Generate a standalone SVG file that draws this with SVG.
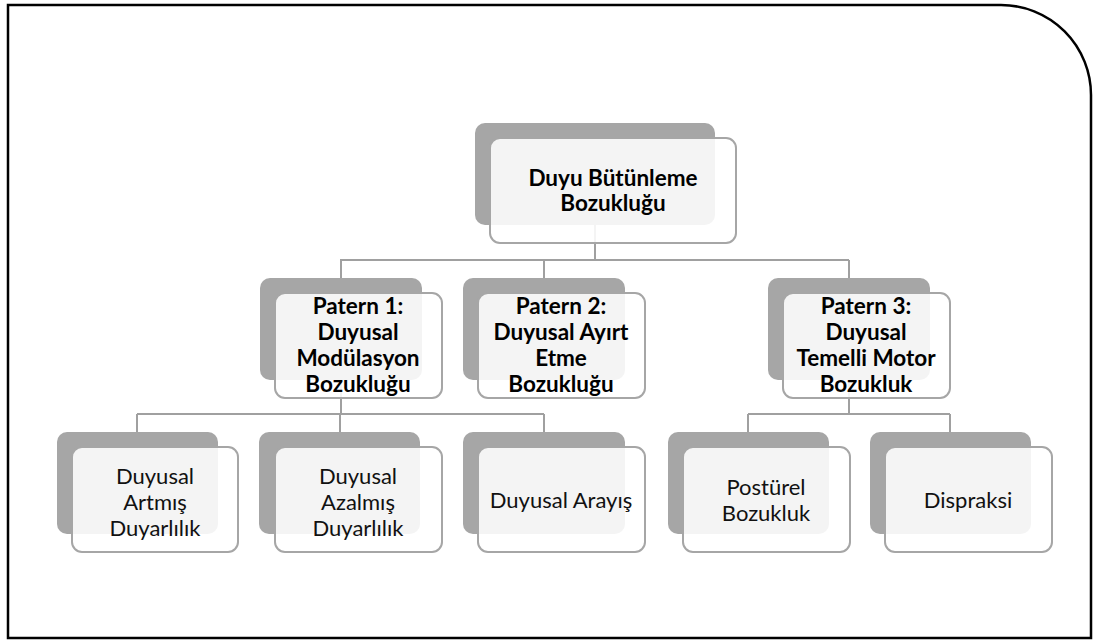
<svg xmlns="http://www.w3.org/2000/svg" width="1093" height="640" viewBox="0 0 1093 640">
<style>
.back{fill:#a6a6a6}
.front{fill:#ffffff;fill-opacity:0.88;stroke:#a6a6a6;stroke-width:2}
.conn{fill:none;stroke:#a0a0a0;stroke-width:2}
.tb{font-family:Lato,"Liberation Sans",sans-serif;font-weight:bold;font-size:22.5px;fill:#000;text-anchor:middle}
.tr{font-family:Lato,"Liberation Sans",sans-serif;font-size:22px;fill:#111;text-anchor:middle}
</style>
<rect width="1093" height="640" fill="#fff"/>
<path d="M8,5 H1001 A90,90 0 0 1 1091,95 V638 H8 Z" fill="none" stroke="#000" stroke-width="2.5"/>
<g id="connectors">
<path class="conn" d="M595,225 V260 M340,260 H849 M341,260 V278 M544,260 V278 M849,260 V278"/>
<path class="conn" d="M341,380 V414 M137,414 H544 M137,414 V432 M340,414 V432 M544,414 V432"/>
<path class="conn" d="M849,380 V414 M748,414 H950 M748,414 V432 M950,414 V432"/>
</g>
<g id="n0">
<rect class="back" x="475" y="123" width="240" height="102" rx="10"/>
<rect class="front" x="490" y="138" width="246" height="105" rx="10"/>
<text class="tb" x="613" y="186">Duyu Bütünleme</text>
<text class="tb" x="613" y="211">Bozukluğu</text>
</g>
<g id="n1">
<rect class="back" x="260" y="278" width="162" height="102" rx="10"/>
<rect class="front" x="275" y="293" width="167" height="105" rx="10"/>
<text class="tb" x="358" y="314">Patern 1:</text>
<text class="tb" x="358" y="340">Duyusal</text>
<text class="tb" x="358" y="366">Modülasyon</text>
<text class="tb" x="358" y="392">Bozukluğu</text>
</g>
<g id="n2">
<rect class="back" x="463" y="278" width="162" height="102" rx="10"/>
<rect class="front" x="478" y="293" width="167" height="105" rx="10"/>
<text class="tb" x="561" y="314">Patern 2:</text>
<text class="tb" x="561" y="340">Duyusal Ayırt</text>
<text class="tb" x="561" y="366">Etme</text>
<text class="tb" x="561" y="392">Bozukluğu</text>
</g>
<g id="n3">
<rect class="back" x="768" y="278" width="162" height="102" rx="10"/>
<rect class="front" x="783" y="293" width="167" height="105" rx="10"/>
<text class="tb" x="866" y="314">Patern 3:</text>
<text class="tb" x="866" y="340">Duyusal</text>
<text class="tb" x="866" y="366">Temelli Motor</text>
<text class="tb" x="866" y="392">Bozukluk</text>
</g>
<g id="n4">
<rect class="back" x="57" y="432" width="161" height="102" rx="10"/>
<rect class="front" x="72" y="447" width="166" height="105" rx="10"/>
<text class="tr" x="155" y="484">Duyusal</text>
<text class="tr" x="155" y="510">Artmış</text>
<text class="tr" x="155" y="536">Duyarlılık</text>
</g>
<g id="n5">
<rect class="back" x="259" y="432" width="161" height="102" rx="10"/>
<rect class="front" x="275" y="447" width="167" height="105" rx="10"/>
<text class="tr" x="358" y="484">Duyusal</text>
<text class="tr" x="358" y="510">Azalmış</text>
<text class="tr" x="358" y="536">Duyarlılık</text>
</g>
<g id="n6">
<rect class="back" x="463" y="432" width="162" height="102" rx="10"/>
<rect class="front" x="478" y="447" width="167" height="105" rx="10"/>
<text class="tr" x="561" y="508">Duyusal Arayış</text>
</g>
<g id="n7">
<rect class="back" x="668" y="432" width="161" height="102" rx="10"/>
<rect class="front" x="683" y="447" width="167" height="105" rx="10"/>
<text class="tr" x="766" y="495">Postürel</text>
<text class="tr" x="766" y="521">Bozukluk</text>
</g>
<g id="n8">
<rect class="back" x="870" y="432" width="161" height="102" rx="10"/>
<rect class="front" x="885" y="447" width="167" height="105" rx="10"/>
<text class="tr" x="968" y="508">Dispraksi</text>
</g>
</svg>
